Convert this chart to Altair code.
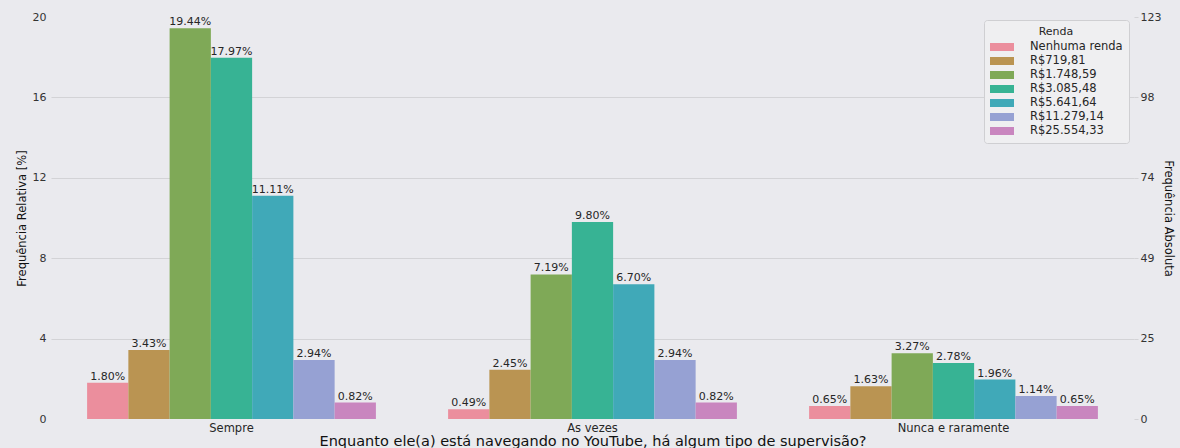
import altair as alt
import pandas as pd

categories = ["Sempre", "As vezes", "Nunca e raramente"]
rendas = ["Nenhuma renda", "R$719,81", "R$1.748,59", "R$3.085,48",
          "R$5.641,64", "R$11.279,14", "R$25.554,33"]
colors = ["#EB8E9D", "#BA9452", "#7FA957", "#37B394", "#40A9B8", "#96A1D3", "#C986BF"]
values = {
    "Sempre": [1.80, 3.43, 19.44, 17.97, 11.11, 2.94, 0.82],
    "As vezes": [0.49, 2.45, 7.19, 9.80, 6.70, 2.94, 0.82],
    "Nunca e raramente": [0.65, 1.63, 3.27, 2.78, 1.96, 1.14, 0.65],
}
left_ticks = [0, 4, 8, 12, 16, 20]
right_labels = ["0", "25", "49", "74", "98", "123"]

rows = []
for c in categories:
    for r, v in zip(rendas, values[c]):
        rows.append({"cat": c, "renda": r, "pct": v, "label": f"{v:.2f}%"})
df = pd.DataFrame(rows)

font = "DejaVu Sans"
yscale = alt.Scale(domain=[0, 20], nice=False, zero=True)
xenc = alt.X("cat:N", sort=categories,
             scale=alt.Scale(paddingInner=0.2, paddingOuter=0.1),
             axis=alt.Axis(title="Enquanto ele(a) está navegando no YouTube, há algum tipo de supervisão?",
                           labelAngle=0, tickSize=0, domain=False, labelPadding=3,
                           labelFontSize=11.5, labelColor="#262626",
                           titleFontSize=14.5, titleFontWeight="normal", titleColor="#111111",
                           titlePadding=1, labelFont=font, titleFont=font))
xoff = alt.XOffset("renda:N", sort=rendas, scale=alt.Scale(paddingInner=0, paddingOuter=0))
col = alt.Color("renda:N", sort=rendas, scale=alt.Scale(domain=rendas, range=colors),
                legend=alt.Legend(title="Renda"))

grid_cond = alt.condition("datum.value == 0 || datum.value == 20",
                          alt.value("transparent"), alt.value("#D3D3D6"))

bars = alt.Chart(df).mark_bar().encode(
    x=xenc, xOffset=xoff,
    y=alt.Y("pct:Q", scale=yscale,
            axis=alt.Axis(values=left_ticks, title="Frequência Relativa [%]",
                          tickSize=0, domain=False, labelPadding=5, grid=True,
                          gridColor=grid_cond, gridWidth=1,
                          labelFontSize=11, labelColor="#333333", labelFont=font,
                          titleFont=font, titleFontSize=11.5,
                          titleFontWeight="normal", titleColor="#111111", titlePadding=5)),
    color=col,
)

text = alt.Chart(df).mark_text(dy=-6, fontSize=11, font=font, color="#262626").encode(
    x=alt.X("cat:N", sort=categories), xOffset=xoff,
    y=alt.Y("pct:Q", scale=yscale, axis=None),
    text="label:N",
)

expr = " : ".join(f"datum.value == {t} ? '{l}'" for t, l in zip(left_ticks, right_labels)) + " : ''"
right = alt.Chart(df).mark_bar(opacity=0).encode(
    x=alt.X("cat:N", sort=categories), xOffset=xoff,
    y=alt.Y("pct:Q", scale=yscale,
            axis=alt.Axis(orient="right", values=left_ticks, labelExpr=expr,
                          title="Frequência Absoluta", grid=False, tickSize=4,
                          tickColor="#D3D3D6", domain=False, labelPadding=2,
                          labelFontSize=11, labelColor="#333333", labelFont=font,
                          titleFont=font, titleFontSize=11.5,
                          titleFontWeight="normal", titleColor="#111111", titlePadding=2)),
)

chart = alt.layer(bars, text, right).resolve_scale(y="independent").properties(
    width=1083, height=402,
    background="#EAEAEE",
    autosize=alt.AutoSizeParams(type="none"),
    padding={"left": 51, "top": 17, "right": 46, "bottom": 29},
).configure_view(stroke=None, fill="#EAEAEE").configure_legend(
    orient="none", legendX=933, legendY=3,
    fillColor="#EFEFF1", strokeColor="#CFCFD2", cornerRadius=3, padding=6,
    titleFont=font, titleFontSize=11, titleFontWeight="normal", titleColor="#262626",
    titleAnchor="middle", titlePadding=2, labelFont=font, labelFontSize=11.5, labelColor="#262626",
    symbolType="M-1.5,-0.5L1.5,-0.5L1.5,0.5L-1.5,0.5Z", symbolSize=256,
    symbolStrokeWidth=0, symbolOpacity=1, labelOffset=20, rowPadding=-1,
    symbolOffset=4,
)

chart.save("out.html", embed_options={"renderer": "svg", "actions": False})
